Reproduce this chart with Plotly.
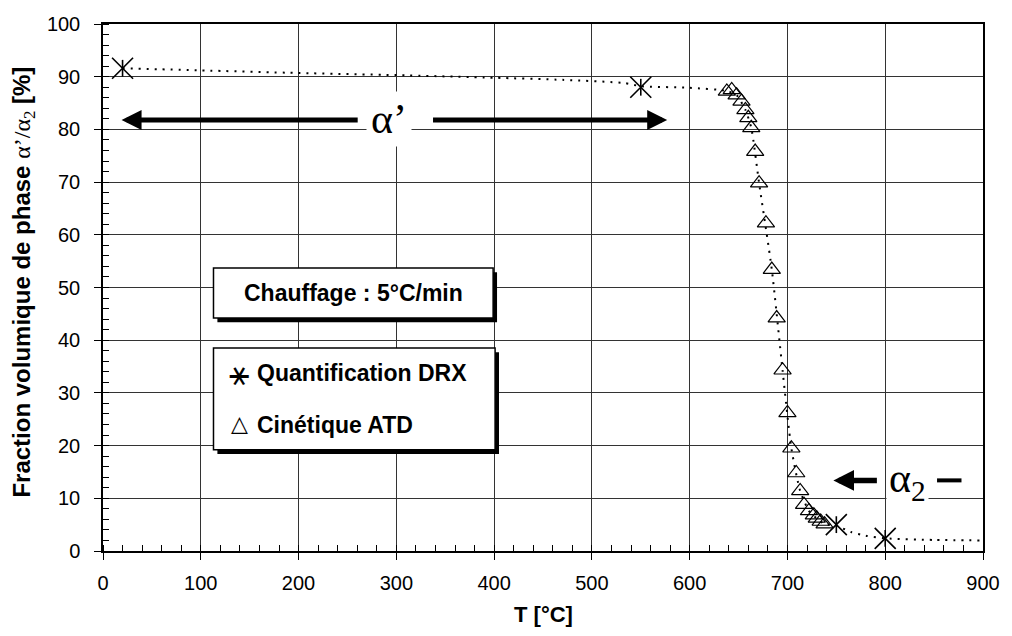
import plotly.graph_objects as go

# ---------------- data ----------------
drx_T = [20, 550, 750, 800]
drx_F = [91.6, 88.0, 5.0, 2.4]

atd_T = [638, 643, 648, 653, 657, 660, 663, 667, 671, 678, 684, 689, 695,
         700, 704, 709, 713, 717, 722, 727, 730, 734, 738]
atd_F = [87.2, 87.5, 86.5, 85.3, 83.7, 82.2, 80.3, 75.8, 69.8, 62.2, 53.4, 44.2, 34.3,
         26.2, 19.5, 14.8, 11.4, 8.8, 7.6, 6.8, 6.2, 5.6, 5.1]

curve_T = [20, 100, 200, 300, 400, 470, 533, 550, 600, 638, 648, 657, 663, 671,
           684, 695, 704, 713, 722, 730, 738, 750, 765, 780, 800, 850, 900]
curve_F = [91.6, 91.2, 90.7, 90.3, 89.8, 89.4, 88.8, 88.2, 87.9, 87.3, 86.5, 83.7, 80.3, 69.8,
           53.4, 34.3, 19.5, 11.4, 7.6, 6.2, 5.1, 4.8, 3.6, 2.9, 2.4, 2.1, 2.0]

x_ticks = [0, 100, 200, 300, 400, 500, 600, 700, 800, 900]
y_ticks = [0, 10, 20, 30, 40, 50, 60, 70, 80, 90, 100]

legend_labels = ["Quantification DRX", "Cinétique ATD"]
info_label = "Chauffage : 5°C/min"

SANS = "Liberation Sans, Arial, sans-serif"
SERIF = "Liberation Serif, Times New Roman, serif"

fig = go.Figure()

# dotted guide curve
fig.add_trace(go.Scatter(
    x=curve_T, y=curve_F, mode="lines", showlegend=False, hoverinfo="skip",
    line=dict(color="black", width=2, dash="2px,6px", shape="spline", smoothing=0.6)))

# ATD triangles
fig.add_trace(go.Scatter(
    x=atd_T, y=atd_F, mode="markers", name=legend_labels[1], showlegend=False,
    marker=dict(symbol="triangle-up-open", size=15, color="black",
                line=dict(color="black", width=1.2))))

# DRX asterisks (X + vertical bar)
fig.add_trace(go.Scatter(
    x=drx_T, y=drx_F, mode="markers", name=legend_labels[0], showlegend=False,
    marker=dict(symbol="x-thin-open", size=21, color="black",
                line=dict(color="black", width=1.6))))
fig.add_trace(go.Scatter(
    x=drx_T, y=drx_F, mode="markers", showlegend=False, hoverinfo="skip",
    marker=dict(symbol="line-ns-open", size=12, color="black",
                line=dict(color="black", width=1.6))))

axis_common = dict(
    showgrid=True, gridcolor="#333333", gridwidth=1,
    showline=True, linecolor="black", linewidth=1.5, mirror=True,
    ticks="outside", ticklen=7, tickcolor="black", tickwidth=1.2,
    zeroline=False, tickfont=dict(family=SANS, size=20, color="black"),
)

fig.update_xaxes(range=[0, 900], tickvals=x_ticks, ticktext=[str(v) for v in x_ticks],
                 minor=dict(dtick=20, tick0=0, ticks="inside", ticklen=6,
                            tickcolor="black", showgrid=False),
                 ticklabelstandoff=6, **axis_common)
fig.update_yaxes(range=[0, 100], tickvals=y_ticks, ticktext=[str(v) for v in y_ticks],
                 minor=dict(dtick=2, tick0=0, ticks="inside", ticklen=6,
                            tickcolor="black", showgrid=False),
                 ticklabelstandoff=10, **axis_common)

shapes = []
def box(x0, x1, y0, y1):
    dx, dy = 4.0, 0.8
    shapes.append(dict(type="rect", xref="x", yref="y", x0=x0 + dx, x1=x1 + dx,
                       y0=y0 - dy, y1=y1 - dy, fillcolor="black", line=dict(width=0)))
    shapes.append(dict(type="rect", xref="x", yref="y", x0=x0, x1=x1, y0=y0, y1=y1,
                       fillcolor="white", line=dict(color="black", width=1.5)))

box(113, 399, 44.2, 53.7)
box(113, 401, 19.2, 38.5)
# dash after alpha2
shapes.append(dict(type="line", xref="x", yref="y", x0=853, x1=878, y0=13.4, y1=13.4,
                   line=dict(color="black", width=4)))

annotations = [
    dict(x=256, y=49, xref="x", yref="y", text="<b>" + info_label + "</b>",
         showarrow=False, font=dict(family=SANS, size=23, color="black")),
    dict(x=139.5, y=33.8, xref="x", yref="y", text="⚹", showarrow=False,
         font=dict(family="DejaVu Sans", size=34, color="black")),
    dict(x=155, y=33.8, xref="x", yref="y", text="<b>" + legend_labels[0] + "</b>",
         xanchor="left", showarrow=False, font=dict(family=SANS, size=23, color="black")),
    dict(x=139.5, y=24.1, xref="x", yref="y", text="△", showarrow=False,
         font=dict(family="DejaVu Sans", size=22, color="black")),
    dict(x=155, y=23.9, xref="x", yref="y", text="<b>" + legend_labels[1] + "</b>",
         xanchor="left", showarrow=False, font=dict(family=SANS, size=23, color="black")),
    # alpha' arrows
    dict(x=19, y=81.8, ax=262, ay=81.8, xref="x", yref="y", axref="x", ayref="y",
         text="", showarrow=True, arrowhead=2, arrowwidth=5, arrowsize=0.8,
         arrowcolor="black", standoff=0, startstandoff=0),
    dict(x=577, y=81.8, ax=336, ay=81.8, xref="x", yref="y", axref="x", ayref="y",
         text="", showarrow=True, arrowhead=2, arrowwidth=5, arrowsize=0.8,
         arrowcolor="black", standoff=0, startstandoff=0),
    dict(x=293, y=82.0, xref="x", yref="y", text="α’", showarrow=False,
         bgcolor="white", borderpad=4,
         font=dict(family=SERIF, size=42, color="black")),
    # alpha2 arrow
    dict(x=747, y=13.4, ax=793, ay=13.4, xref="x", yref="y", axref="x", ayref="y",
         text="", showarrow=True, arrowhead=2, arrowwidth=5.5, arrowsize=0.75,
         arrowcolor="black", standoff=0, startstandoff=0),
    dict(x=823, y=13.2, xref="x", yref="y", text="α<sub>2</sub>", showarrow=False,
         bgcolor="white", borderpad=2,
         font=dict(family=SERIF, size=42, color="black")),
    # axis titles
    dict(x=(23 - 103) / 884, y=0.51, xref="paper", yref="paper", textangle=-90,
         text="<b>Fraction volumique de phase </b><span style='font-family:Liberation Serif'>α’/α<sub>2</sub></span><b> [%]</b>",
         showarrow=False, xanchor="center", yanchor="middle",
         font=dict(family=SANS, size=24, color="black")),
    dict(x=0.5, y=(551 - 614) / 527, xref="paper", yref="paper", text="<b>T [°C]</b>",
         showarrow=False, xanchor="center", yanchor="middle",
         font=dict(family=SANS, size=22, color="black")),
]

fig.update_layout(
    width=1012, height=636,
    margin=dict(l=103, r=25, t=24, b=85),
    paper_bgcolor="white", plot_bgcolor="white",
    shapes=shapes, annotations=annotations, showlegend=False,
)

fig.write_html("out.html", config={"displayModeBar": False},
               post_script="document.body.style.margin='0';")
